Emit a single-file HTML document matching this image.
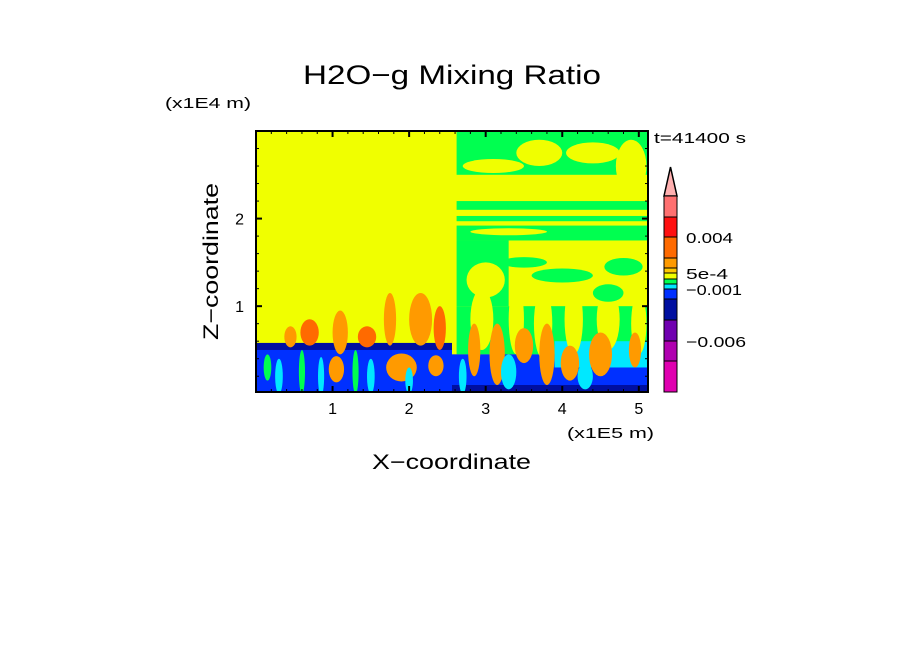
<!DOCTYPE html>
<html><head><meta charset="utf-8"><style>
body{margin:0;background:#fff;}
svg{display:block;font-family:"Liberation Sans",sans-serif;}
</style></head><body>
<svg id="chart" width="904" height="654" viewBox="0 0 904 654">
<text x="303" y="84" font-size="27" textLength="298" lengthAdjust="spacingAndGlyphs">H2O−g Mixing Ratio</text>
<text x="165" y="108" font-size="15" textLength="86" lengthAdjust="spacingAndGlyphs">(x1E4 m)</text>
<text transform="translate(218,340) rotate(-90)" font-size="21" textLength="157" lengthAdjust="spacingAndGlyphs">Z−coordinate</text>
<text x="372" y="469" font-size="21" textLength="159" lengthAdjust="spacingAndGlyphs">X−coordinate</text>
<text x="567" y="438" font-size="15" textLength="87" lengthAdjust="spacingAndGlyphs">(x1E5 m)</text>
<text x="654" y="143" font-size="15" textLength="92" lengthAdjust="spacingAndGlyphs">t=41400 s</text>
<defs><clipPath id="pc"><rect x="256" y="131" width="392" height="261"/></clipPath></defs>
<g id="field" clip-path="url(#pc)"></g>
<g id="axes"></g>
<g id="cbar"></g>
</svg>
<script>
// axis domain
const xDomain=[0,5.12], zDomain=[0.02,3.0];
const xTicks=[1,2,3,4,5];
const zTicks=[1,2];
// colorbar levels (top to bottom)
const cbarColors=["#ff7070","#ff1010","#ff6a00","#ff9a00","#ffc800","#f0ff00","#00ff50","#00e8ff","#0030ff","#000fa0","#7000b0","#b000b0","#e000b0"];
const cbarHeights=[21,20,21,10,5,6,5,5,10,21,21,20,31];
const cbarLabels=["0.004","5e-4","−0.001","−0.006"];
const cbarLabelIdx=[2,5,8,11];
const cbarLabelLen=[47,42,56,60];
// field regions: [x0,x1,z0,z1,color]
const rects=[
 [0,2.56,0,3,"#f0ff00"],[2.56,5.12,0,3,"#f0ff00"],
 [0,2.56,0,0.58,"#0030ff"],[0,2.56,0.5,0.58,"#000fa0"],
 [2.62,5.12,2.5,3,"#00ff50"],[2.62,5.12,2.1,2.2,"#00ff50"],[2.62,5.12,1.97,2.03,"#00ff50"],
 [2.62,5.12,1.75,1.92,"#00ff50"],[2.62,3.3,1.0,1.75,"#00ff50"],[2.62,5.12,0.45,1.0,"#00ff50"],
 [2.56,5.12,0,0.45,"#0030ff"],[3.9,5.12,0.3,0.6,"#00e8ff"],[2.56,5.12,0,0.1,"#000fa0"]
];
// yellow streaks in green areas: [xc,zc,rx,rz]
const yStreaks=[[3.1,2.6,0.4,0.08],[3.7,2.75,0.3,0.15],[4.4,2.75,0.35,0.12],[4.9,2.6,0.2,0.3],[3.4,2.35,0.8,0.1],[4.5,2.35,0.6,0.1],[3.3,1.85,0.5,0.04],[4.3,1.6,0.9,0.15],[3.0,1.3,0.25,0.2],[2.95,0.85,0.15,0.35],[3.4,0.85,0.1,0.4],[3.75,0.8,0.12,0.4],[4.15,0.85,0.12,0.4],[4.6,0.85,0.15,0.35],[5.0,0.8,0.1,0.35]];
// green patches in yellow areas: [xc,zc,rx,rz]
const gPatches=[[3.5,1.5,0.3,0.06],[4.0,1.35,0.4,0.08],[4.8,1.45,0.25,0.1],[3.2,2.85,0.2,0.15],[4.6,1.15,0.2,0.1]];
// plumes: [xc,zc,rx,rz,color]
const plumes=[
 [0.45,0.65,0.08,0.12,"#ff9a00"],[0.7,0.7,0.12,0.15,"#ff6a00"],[1.1,0.7,0.1,0.25,"#ff9a00"],[1.45,0.65,0.12,0.12,"#ff6a00"],
 [1.75,0.85,0.08,0.3,"#ff9a00"],[2.15,0.85,0.15,0.3,"#ff9a00"],[2.4,0.75,0.08,0.25,"#ff6a00"],
 [1.05,0.28,0.1,0.15,"#ff9a00"],[1.9,0.3,0.2,0.16,"#ff9a00"],[2.35,0.32,0.1,0.12,"#ff9a00"],
 [0.3,0.2,0.05,0.2,"#00e8ff"],[0.6,0.25,0.04,0.25,"#00ff50"],[0.85,0.2,0.04,0.22,"#00e8ff"],[1.3,0.25,0.04,0.25,"#00ff50"],[1.5,0.2,0.05,0.2,"#00e8ff"],[2.0,0.15,0.05,0.15,"#00e8ff"],[0.15,0.3,0.05,0.15,"#00ff50"],
 [2.85,0.5,0.08,0.3,"#ff9a00"],[3.15,0.45,0.1,0.35,"#ff9a00"],[3.5,0.55,0.12,0.2,"#ff9a00"],[3.8,0.45,0.1,0.35,"#ff9a00"],
 [4.1,0.35,0.12,0.2,"#ff9a00"],[4.5,0.45,0.15,0.25,"#ff9a00"],[4.95,0.5,0.08,0.2,"#ff9a00"],[3.3,0.25,0.1,0.2,"#00e8ff"],[4.3,0.2,0.1,0.15,"#00e8ff"],[2.7,0.2,0.05,0.2,"#00e8ff"]
];
const NS="http://www.w3.org/2000/svg";
const X0=256,X1=648,Y0=392,Y1=131;
function sx(v){return X0+(v-xDomain[0])/(xDomain[1]-xDomain[0])*(X1-X0);}
function sz(v){return Y0-(v-zDomain[0])/(zDomain[1]-zDomain[0])*(Y0-Y1);}
function mk(tag,attrs,parent){const e=document.createElementNS(NS,tag);for(const k in attrs)e.setAttribute(k,attrs[k]);parent.appendChild(e);return e;}
const F=document.getElementById('field');
rects.forEach(r=>{const e=mk('rect',{x:sx(r[0]),y:sz(r[3]),width:sx(r[1])-sx(r[0]),height:sz(r[2])-sz(r[3]),fill:r[4]},F);

});
yStreaks.forEach(s=>{const e=mk('ellipse',{cx:sx(s[0]),cy:sz(s[1]),rx:sx(s[2])-sx(0),ry:sz(0)-sz(s[3]),fill:"#f0ff00"},F);

});
gPatches.forEach(s=>{const e=mk('ellipse',{cx:sx(s[0]),cy:sz(s[1]),rx:sx(s[2])-sx(0),ry:sz(0)-sz(s[3]),fill:"#00ff50"},F);

});
plumes.forEach(p=>{const e=mk('ellipse',{cx:sx(p[0]),cy:sz(p[1]),rx:sx(p[2])-sx(0),ry:sz(0)-sz(p[3]),fill:p[4]},F);

});
const A=document.getElementById('axes');
const fr=mk('rect',{x:X0,y:Y1,width:X1-X0,height:Y0-Y1,fill:"none",stroke:"#000","stroke-width":2},A);


for(let v=0.2;v<xDomain[1];v+=0.2){const maj=Math.abs(v-Math.round(v))<1e-6,L=maj?6:3,x=sx(v);
 mk('line',{x1:x,x2:x,y1:Y0,y2:Y0-L,stroke:"#000","stroke-width":maj?2:1},A);mk('line',{x1:x,x2:x,y1:Y1,y2:Y1+L,stroke:"#000","stroke-width":maj?2:1},A);}
for(let v=0.2;v<zDomain[1];v+=0.2){const maj=Math.abs(v-Math.round(v))<1e-6,L=maj?6:3,y=sz(v);
 mk('line',{x1:X0,x2:X0+L,y1:y,y2:y,stroke:"#000","stroke-width":maj?2:1},A);mk('line',{x1:X1,x2:X1-L,y1:y,y2:y,stroke:"#000","stroke-width":maj?2:1},A);}
xTicks.forEach(t=>{const e=mk('text',{x:sx(t),y:414,"font-size":16,"text-anchor":"middle"},A);e.textContent=t;

});
zTicks.forEach(t=>{const e=mk('text',{x:244,y:sz(t)+6,"font-size":16,"text-anchor":"end"},A);e.textContent=t;

});
const C=document.getElementById('cbar');
mk('polygon',{points:"664,196 677,196 670.5,167",fill:"#ffb0b0",stroke:"#000","stroke-width":1.5},C);
let y=196;const ys=[];
cbarColors.forEach((c,i)=>{const e=mk('rect',{x:664,y:y,width:13,height:cbarHeights[i],fill:c,stroke:"#000","stroke-width":1},C);

ys.push(y);y+=cbarHeights[i];});
cbarLabels.forEach((l,i)=>{const e=mk('text',{x:686,y:ys[cbarLabelIdx[i]]+6,"font-size":15,textLength:cbarLabelLen[i],lengthAdjust:"spacingAndGlyphs"},C);e.textContent=l;

});
</script>
</body></html>
